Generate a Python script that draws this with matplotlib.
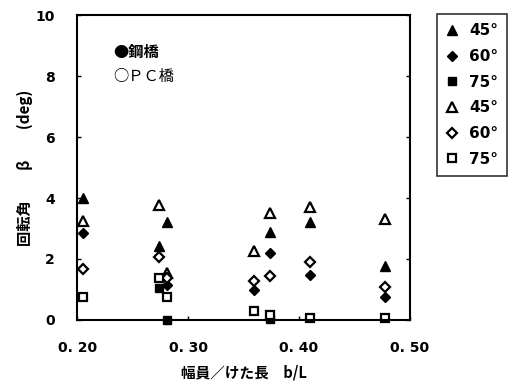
import matplotlib.pyplot as plt
from matplotlib.ticker import MultipleLocator

plt.rcParams['font.family'] = ['DejaVu Sans', 'Noto Sans CJK JP']

# steel bridges (filled markers)
s45_x = [0.205, 0.281, 0.274, 0.374, 0.410, 0.477]
s45_y = [4.0, 3.22, 2.42, 2.9, 3.22, 1.77]
s60_x = [0.205, 0.281, 0.359, 0.374, 0.410, 0.477]
s60_y = [2.86, 1.15, 0.98, 2.19, 1.48, 0.76]
s75_x = [0.274, 0.281, 0.374]
s75_y = [1.05, 0.0, 0.04]

# PC bridges (open markers)
p45_x = [0.205, 0.274, 0.281, 0.359, 0.374, 0.410, 0.477]
p45_y = [3.26, 3.77, 1.55, 2.27, 3.5, 3.71, 3.3]
p60_x = [0.205, 0.274, 0.281, 0.359, 0.374, 0.410, 0.477]
p60_y = [1.67, 2.08, 1.38, 1.28, 1.44, 1.91, 1.07]
p75_x = [0.205, 0.274, 0.281, 0.359, 0.374, 0.410, 0.477]
p75_y = [0.76, 1.39, 0.74, 0.30, 0.15, 0.08, 0.08]

xticks = [0.20, 0.30, 0.40, 0.50]
xticklabels = ['0. 20', '0. 30', '0. 40', '0. 50']

fig = plt.figure(figsize=(5.21, 3.9), dpi=100)
ax = fig.add_axes([0.148, 0.1795, 0.639, 0.782])

kw = dict(linestyle='none', color='black', clip_on=False)
h1, = ax.plot(s45_x, s45_y, marker='^', markersize=6.5, label='45°', **kw)
h2, = ax.plot(s60_x, s60_y, marker='D', markersize=4.8, label='60°', **kw)
h3, = ax.plot(s75_x, s75_y, marker='s', markersize=6, label='75°', **kw)
ow = dict(linestyle='none', color='black', markerfacecolor='white',
          markeredgewidth=1.6, clip_on=False)
h4, = ax.plot(p45_x, p45_y, marker='^', markersize=6.5, label='45°', **ow)
h5, = ax.plot(p60_x, p60_y, marker='D', markersize=4.8, label='60°', **ow)
h6, = ax.plot(p75_x, p75_y, marker='s', markersize=6, label='75°', **ow)

ax.set_xlim(0.20, 0.50)
ax.set_ylim(0, 10)
ax.set_xticks(xticks)
ax.set_xticklabels(xticklabels)
ax.yaxis.set_major_locator(MultipleLocator(2))
ax.tick_params(direction='in', length=3, width=1, labelsize=10, right=True)
ax.tick_params(axis='y', pad=16)
ax.tick_params(axis='x', pad=15)
for lab in ax.get_xticklabels() + ax.get_yticklabels():
    lab.set_fontweight('bold')
for sp in ax.spines.values():
    sp.set_linewidth(1.5)

ax.set_xlabel('幅員／けた長　b/L', fontsize=10.5, fontweight='bold',
              family=['Noto Sans CJK JP', 'DejaVu Sans'], labelpad=7)
ax.set_ylabel('回転角　　β　　(deg)', fontsize=11, fontweight='bold',
              family=['Noto Sans CJK JP', 'DejaVu Sans'], labelpad=2)

ax.text(0.108, 0.879, '●鋼橋', transform=ax.transAxes, fontsize=11,
        fontweight='bold', family=['Noto Sans CJK JP', 'DejaVu Sans'],
        va='center')
ax.text(0.108, 0.797, '○ＰＣ橋', transform=ax.transAxes, fontsize=11,
        family=['Noto Sans CJK JP', 'DejaVu Sans'], va='center')

leg = fig.legend(handles=[h1, h2, h3, h4, h5, h6], loc='upper left',
                 bbox_to_anchor=(437 / 521, 1 - 14 / 390), frameon=True,
                 fancybox=False, edgecolor='black', handlelength=0.8,
                 handletextpad=0.7, labelspacing=0.7, borderpad=0.6,
                 borderaxespad=0, prop={'size': 11, 'weight': 'bold'})
leg.get_frame().set_linewidth(1.2)

fig.savefig('out.png', dpi=100)
